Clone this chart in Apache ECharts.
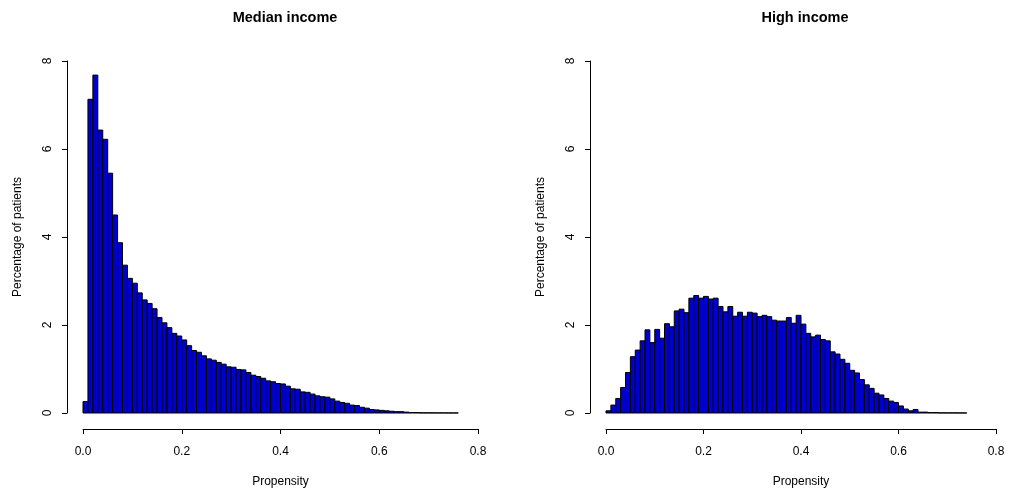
<!DOCTYPE html>
<html>
<head>
<meta charset="utf-8">
<title>Propensity histograms</title>
<script src="https://cdn.jsdelivr.net/npm/echarts@6/dist/echarts.min.js"></script>
<style>
  html, body { margin: 0; padding: 0; background: #fff; }
  #chart { width: 1009px; height: 494px; }
</style>
</head>
<body>
<div id="chart"></div>
<script>
// Histogram bins are 0.01 wide, starting at 0.
const binWidth = 0.01;

// Percentage of patients per propensity bin – median income group
const medianIncome = [
  0.26, 7.13, 7.68, 6.43, 6.22, 5.45, 4.50, 3.87, 3.36, 3.06,
  2.95, 2.73, 2.57, 2.49, 2.37, 2.17, 2.05, 1.94, 1.81, 1.75,
  1.66, 1.53, 1.42, 1.38, 1.30, 1.23, 1.20, 1.15, 1.11, 1.05,
  1.04, 0.99, 0.98, 0.92, 0.86, 0.83, 0.79, 0.73, 0.71, 0.67,
  0.66, 0.61, 0.55, 0.54, 0.48, 0.47, 0.43, 0.39, 0.37, 0.36,
  0.32, 0.27, 0.24, 0.22, 0.18, 0.17, 0.13, 0.11, 0.08, 0.07,
  0.06, 0.05, 0.04, 0.03, 0.03, 0.02, 0.01, 0.01, 0.005, 0.005,
  0.004, 0.003, 0.003, 0.002, 0.002, 0.002
];

// Percentage of patients per propensity bin – high income group
const highIncome = [
  0.05, 0.18, 0.33, 0.58, 0.92, 1.28, 1.43, 1.64, 1.89, 1.60,
  1.90, 1.70, 2.03, 1.96, 2.32, 2.36, 2.28, 2.61, 2.67, 2.61,
  2.65, 2.59, 2.61, 2.42, 2.30, 2.42, 2.20, 2.29, 2.20, 2.29,
  2.27, 2.19, 2.22, 2.19, 2.11, 2.09, 2.09, 2.17, 2.04, 2.22,
  2.02, 1.81, 1.73, 1.77, 1.67, 1.64, 1.39, 1.34, 1.22, 1.13,
  0.97, 0.91, 0.76, 0.64, 0.56, 0.45, 0.41, 0.33, 0.27, 0.24,
  0.16, 0.09, 0.05, 0.08, 0.02, 0.02, 0.01, 0.01, 0.004, 0.004,
  0.003, 0.003, 0.002, 0.002
];

const panelTitles = ['Median income', 'High income'];
const xTicks = [0, 0.2, 0.4, 0.6, 0.8];
const yTicks = [0, 2, 4, 6, 8];
const xLabel = 'Propensity';
const yLabel = 'Percentage of patients';

const FONT = '"Liberation Sans", Arial, Helvetica, sans-serif';
const FILL = '#0000cc';

function toBins(values) {
  return values.map((v, i) => [i * binWidth, (i + 1) * binWidth, v]);
}

function renderBar(params, api) {
  const p0 = api.coord([api.value(0), api.value(2)]);
  const p1 = api.coord([api.value(1), 0]);
  return {
    type: 'rect',
    shape: { x: p0[0], y: p0[1], width: p1[0] - p0[0], height: p1[1] - p0[1] },
    style: { fill: FILL, stroke: '#000', lineWidth: 1 }
  };
}

const grids = [
  { left: 83, right: 531, top: 61, bottom: 81 },
  { left: 606, right: 13, top: 61, bottom: 81 }
];

function xAxisFor(i) {
  return {
    gridIndex: i, type: 'value',
    min: xTicks[0], max: xTicks[xTicks.length - 1], interval: 0.2,
    offset: 16,
    name: xLabel, nameLocation: 'middle', nameGap: 47,
    nameTextStyle: { fontFamily: FONT, fontSize: 12, color: '#000' },
    axisLine: { show: true, onZero: false, lineStyle: { color: '#000', width: 1 } },
    axisTick: { show: true, length: 5, lineStyle: { color: '#000' } },
    axisLabel: { fontFamily: FONT, fontSize: 12, color: '#000', margin: 17,
      formatter: v => v.toFixed(1) },
    splitLine: { show: false }
  };
}

function yAxisFor(i) {
  return {
    gridIndex: i, type: 'value',
    min: yTicks[0], max: yTicks[yTicks.length - 1], interval: 2,
    offset: 16,
    name: yLabel, nameLocation: 'middle', nameGap: 43, nameRotate: 90,
    nameTextStyle: { fontFamily: FONT, fontSize: 12, color: '#000' },
    axisLine: { show: true, onZero: false, lineStyle: { color: '#000', width: 1 } },
    axisTick: { show: true, length: 5, lineStyle: { color: '#000' } },
    axisLabel: { fontFamily: FONT, fontSize: 12, color: '#000', margin: 13, rotate: 90 },
    splitLine: { show: false }
  };
}

const chart = echarts.init(document.getElementById('chart'), null, { renderer: 'canvas' });
chart.setOption({
  backgroundColor: '#fff',
  animation: false,
  title: panelTitles.map((t, i) => ({
    text: t,
    left: i === 0 ? 280 : 800,
    top: 5,
    textAlign: 'center',
    textStyle: { fontFamily: FONT, fontSize: 14.5, fontWeight: 'bold', color: '#000' }
  })),
  grid: grids,
  xAxis: [xAxisFor(0), xAxisFor(1)],
  yAxis: [yAxisFor(0), yAxisFor(1)],
  series: [
    { type: 'custom', xAxisIndex: 0, yAxisIndex: 0, renderItem: renderBar,
      encode: { x: [0, 1], y: 2 }, data: toBins(medianIncome) },
    { type: 'custom', xAxisIndex: 1, yAxisIndex: 1, renderItem: renderBar,
      encode: { x: [0, 1], y: 2 }, data: toBins(highIncome) }
  ]
});
</script>
</body>
</html>
